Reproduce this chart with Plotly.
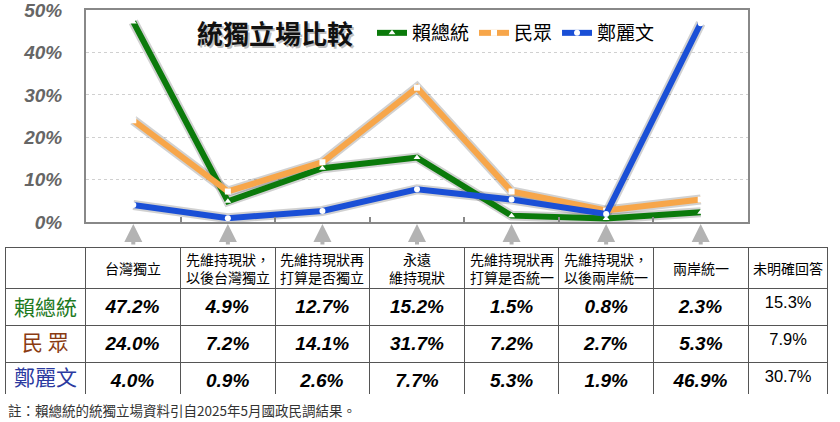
import plotly.graph_objects as go

categories = ["台灣獨立", "先維持現狀，以後台灣獨立", "先維持現狀再打算是否獨立", "永遠維持現狀",
              "先維持現狀再打算是否統一", "先維持現狀，以後兩岸統一", "兩岸統一", "未明確回答"]
header_labels = ["", "台灣獨立", "先維持現狀，<br>以後台灣獨立", "先維持現狀再<br>打算是否獨立", "永遠<br>維持現狀",
                 "先維持現狀再<br>打算是否統一", "先維持現狀，<br>以後兩岸統一", "兩岸統一", "未明確回答"]
series_names = ["賴總統", "民眾", "鄭麗文"]
row_labels = ["賴總統", "民 眾", "鄭麗文"]
lai = [47.2, 4.9, 12.7, 15.2, 1.5, 0.8, 2.3, 15.3]
public = [24.0, 7.2, 14.1, 31.7, 7.2, 2.7, 5.3, 7.9]
cheng = [4.0, 0.9, 2.6, 7.7, 5.3, 1.9, 46.9, 30.7]
y_ticks = [0, 10, 20, 30, 40, 50]
y_ticktext = [f"{v}%" for v in y_ticks]

line_colors = ["#0b7a0b", "#f7a64a", "#1a4fd6"]
label_colors = ["#1f7a1f", "#8a3b12", "#2b3aa0"]
symbols = ["triangle-up", "square", "circle"]

W, H = 840, 422
x0, x1 = 86 / W, 748 / W
y_top, y_bot = 1 - 10 / H, 1 - 222 / H
col_w = [81, 95, 95, 95, 95, 95, 95, 95, 80]
tbl_left, tbl_right, tbl_top = 5, 828, 247
hdr_h, row_h = 41, 35

fig = go.Figure()
plot_cats = categories[:7]
for name, vals, col, sym in zip(series_names, [lai, public, cheng], line_colors, symbols):
    # soft shadow under the line
    fig.add_trace(go.Scatter(x=plot_cats, y=vals[:7], mode="lines", showlegend=False, hoverinfo="skip",
                             line=dict(color="rgba(0,0,0,0.18)", width=10)))
for name, vals, col, sym in zip(series_names, [lai, public, cheng], line_colors, symbols):
    fig.add_trace(go.Scatter(x=plot_cats, y=vals[:7], mode="lines+markers", name=name,
                             line=dict(color=col, width=6),
                             marker=dict(symbol=sym, size=6, color="white", line=dict(width=0))))

# table
values = [lai, public, cheng]
cols = [["", "", ""]]
for j in range(8):
    if j < 7:
        cols.append([f"<b><i>{values[i][j]:.1f}%</i></b>" for i in range(3)])
    else:
        cols.append([f"{values[i][j]:.1f}%" for i in range(3)])
font_sizes = [20] + [19] * 7 + [16.5]
tbl_bottom = tbl_top + hdr_h + 3 * row_h + 2

fig.add_trace(go.Table(
    domain=dict(x=[tbl_left / W, tbl_right / W], y=[1 - tbl_bottom / H, 1 - tbl_top / H]),
    columnwidth=col_w,
    header=dict(values=[""] * len(header_labels), height=hdr_h, fill_color="white",
                line=dict(color="#555", width=1)),
    cells=dict(values=cols, height=row_h, align="center", fill_color="white",
               line=dict(color="#555", width=1),
               font=dict(family="Liberation Sans", size=font_sizes, color="black")),
))

# header texts, centred in each header cell
scale = (tbl_right - tbl_left) / sum(col_w)
edge = tbl_left
for lab, w in zip(header_labels, col_w):
    cx = edge + w * scale / 2
    edge += w * scale
    if lab:
        fig.add_annotation(x=cx / W, y=1 - (tbl_top + hdr_h / 2) / H, xref="paper", yref="paper",
                           xanchor="center", yanchor="middle", text=lab, showarrow=False, borderpad=0,
                           font=dict(family="Noto Sans CJK TC", size=14, color="black"))

# coloured row labels in the first table column
for i, (lab, col) in enumerate(zip(row_labels, label_colors)):
    cy = tbl_top + hdr_h + row_h * (i + 0.5)
    fig.add_annotation(x=(tbl_left + col_w[0] * scale / 2) / W, y=1 - cy / H, xref="paper", yref="paper",
                       xanchor="center", yanchor="middle", text=lab, showarrow=False,
                       font=dict(family="Noto Sans CJK TC", size=21, color=col))

# up arrows under each category
for c in plot_cats:
    fig.add_annotation(x=c, y=1 - 224 / H, xref="x", yref="paper", ax=0, ay=22, text="",
                       showarrow=True, arrowhead=2, arrowsize=0.9, arrowwidth=4, arrowcolor="#b3b3b3")

# title with shadow
for dx, dy, col in [(2, -2, "rgba(0,0,0,0.25)"), (0, 0, "#111")]:
    fig.add_annotation(x=275 / W, y=1 - 33 / H, xref="paper", yref="paper", text="<b>統獨立場比較</b>",
                       xanchor="center", yanchor="middle", showarrow=False, xshift=dx, yshift=dy,
                       font=dict(family="Noto Sans CJK TC", size=26, color=col))

fig.add_annotation(x=6 / W, y=1 - 410 / H, xref="paper", yref="paper", xanchor="left", yanchor="middle",
                   text="註：賴總統的統獨立場資料引自2025年5月國政民調結果。", showarrow=False,
                   font=dict(family="Noto Sans CJK TC", size=13.5, color="#333"))

fig.update_layout(
    width=W, height=H, margin=dict(l=0, r=0, t=0, b=0, autoexpand=False),
    paper_bgcolor="white", plot_bgcolor="white",
    showlegend=True,
    legend=dict(orientation="h", x=372 / W, y=1 - 33 / H, xanchor="left", yanchor="middle",
                bgcolor="rgba(0,0,0,0)", itemwidth=30, tracegroupgap=0,
                font=dict(family="Noto Sans CJK TC", size=19, color="black")),
)
fig.update_xaxes(domain=[x0, x1], autorange=False, range=[-0.5, 6.5], showticklabels=False, showgrid=False,
                 showline=True, linecolor="#888", linewidth=2, mirror=True,
                 ticks="inside", ticklen=5, tickcolor="#888", tickson="boundaries", tickwidth=2)
fig.update_yaxes(domain=[y_bot, y_top], autorange=False, range=[0, 50.02], tickmode="array",
                 tickvals=y_ticks, ticktext=y_ticktext, ticklabeloverflow="allow",
                 showgrid=True, gridcolor="#d0d0d0", griddash="dot", zeroline=False,
                 showline=True, linecolor="#888", linewidth=2, mirror=True,
                 ticks="outside", ticklen=18, tickcolor="white",
                 tickfont=dict(family="Liberation Sans", size=19, color="#666", weight="bold", style="italic"))

fig.write_html("out.html", config={"displayModeBar": False},
               post_script="document.body.style.margin='0';")
